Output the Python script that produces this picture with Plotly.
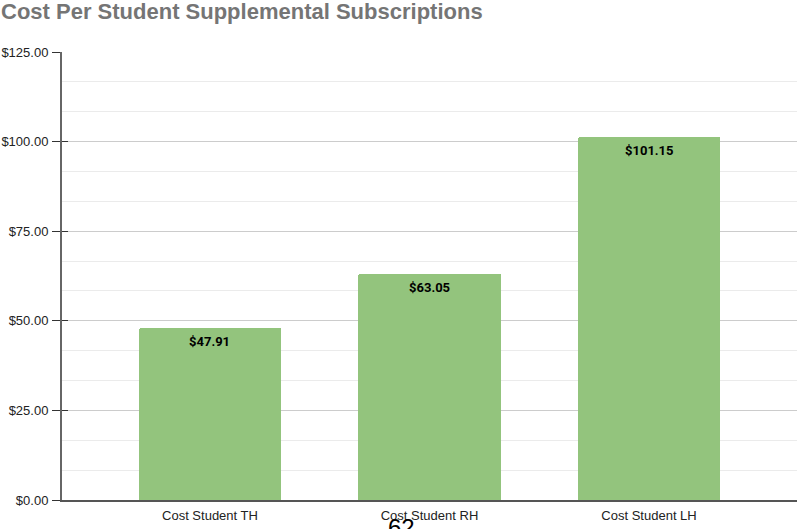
import plotly.graph_objects as go

categories = ["Cost Student TH", "Cost Student RH", "Cost Student LH"]
costs = [47.91, 63.05, 101.15]
y_ticks = [0, 25, 50, 75, 100, 125]
y_tick_labels = ["$0.00", "$25.00", "$50.00", "$75.00", "$100.00", "$125.00"]
title_text = "Cost Per Student Supplemental Subscriptions"
page_number = "62"

W, H = 797, 529
L, R, T, B = 62, 0, 52, 29
plot_w = W - L - R
plot_h = H - T - B

def px_x(px):
    return (px - L) / plot_w

def px_y(py):
    return (H - B - py) / plot_h

fig = go.Figure()
fig.add_trace(go.Bar(
    x=categories,
    y=costs,
    marker=dict(color="#93c47d", line=dict(width=0)),
    width=0.647,
    hoverinfo="skip",
))
# helper trace so the crossing-tick overlay axis is drawn
fig.add_trace(go.Scatter(x=[categories[0]], y=[None], yaxis="y2", mode="markers",
                         showlegend=False, hoverinfo="skip"))

annotations = [
    dict(x=c, y=v, xref="x", yref="y", text="$%.2f" % v, showarrow=False,
         xanchor="center", yanchor="middle", yshift=-13,
         font=dict(family="Roboto, Arial, sans-serif", size=13, color="#000000", weight="bold"))
    for c, v in zip(categories, costs)
]
annotations += [
    dict(text="<b>" + title_text + "</b>", xref="paper", yref="paper",
         x=px_x(-1), y=px_y(-3), xanchor="left", yanchor="top", showarrow=False,
         font=dict(family="Liberation Sans, Arial, sans-serif", size=22, color="#757575")),
    dict(text=page_number, xref="paper", yref="paper",
         x=px_x(401), y=px_y(512), xanchor="center", yanchor="top", showarrow=False,
         font=dict(family="Liberation Sans, Arial, sans-serif", size=24, color="#000000")),
]

fig.update_layout(
    width=W, height=H,
    margin=dict(l=L, r=R, t=T, b=B, pad=0),
    plot_bgcolor="white",
    paper_bgcolor="white",
    showlegend=False,
    bargap=0,
    barcornerradius=2,
    font=dict(family="Liberation Sans, Arial, sans-serif", size=13, color="#222222"),
    xaxis=dict(
        range=[-0.674, 2.674],
        showline=True, linecolor="#555555", linewidth=2,
        ticks="", showgrid=False, zeroline=False,
        ticklabelstandoff=2,
        tickfont=dict(size=13, color="#222222"),
        automargin=False,
        fixedrange=True,
    ),
    yaxis=dict(
        range=[0, 125],
        tickvals=y_ticks, ticktext=y_tick_labels,
        ticks="outside", ticklen=8, tickcolor="#333333", tickwidth=1,
        ticklabelstandoff=1,
        showline=True, linecolor="#666666", linewidth=2,
        showgrid=True, gridcolor="#cccccc", gridwidth=1,
        zeroline=False,
        minor=dict(dtick=25/3, tick0=0, showgrid=True, gridcolor="#ebebeb", gridwidth=1, ticks=""),
        tickfont=dict(size=13, color="#222222"),
        automargin=False,
        fixedrange=True,
    ),
    yaxis2=dict(
        range=[0, 125], overlaying="y", side="left",
        tickvals=y_ticks, showticklabels=False,
        ticks="inside", ticklen=6, tickcolor="#333333", tickwidth=1,
        showgrid=False, showline=False, zeroline=False,
        automargin=False,
        fixedrange=True,
    ),
    annotations=annotations,
)

fig.write_html("out.html", config={"displayModeBar": False},
               post_script="document.body.style.margin='0px';document.body.style.overflow='hidden';")
